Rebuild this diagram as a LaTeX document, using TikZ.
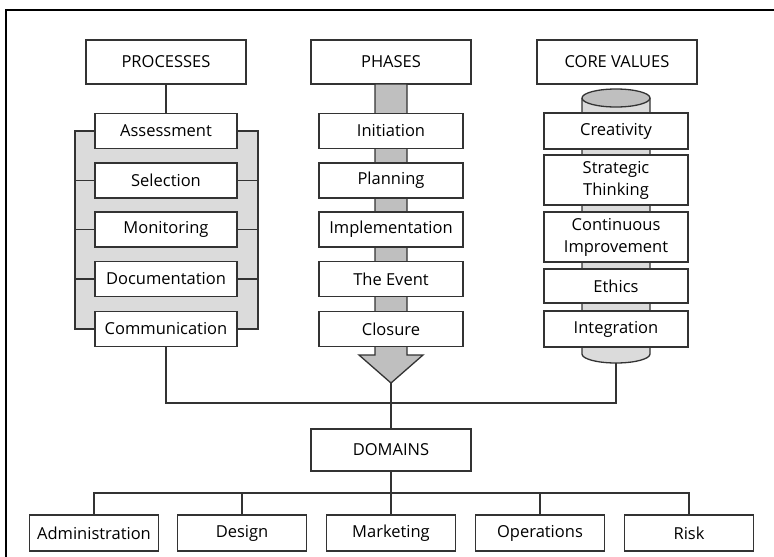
\documentclass[tikz,border=0pt]{standalone}
\usepackage{fontspec}
\setmainfont{Open Sans}
\begin{document}
\begin{tikzpicture}[x=1pt,y=-1pt,
  ink/.style={draw=black!80, line width=1.3pt},
  box/.style={ink, fill=white, inner sep=0pt, align=center,
    font=\fontsize{16.5}{22}\selectfont, text=black},
  head/.style={box, minimum width=160pt, minimum height=44pt},
  proc/.style={box, minimum width=142pt, minimum height=35pt},
  phase/.style={box, minimum width=144pt, minimum height=35pt},
  core/.style={box, minimum width=144pt},
  dom/.style={box, minimum width=129pt, minimum height=36pt},
  wire/.style={draw=black!80, line width=1.2pt},
  shade/.style={fill=black!25},
  light/.style={fill=black!14}]
\useasboundingbox (0,0) rectangle (774,557);

% outer frame (top and left edges)
\draw[line width=1.5pt] (6,557) -- (6,10) -- (774,10);

% ---------- column 1: processes ----------
\node[head] (processes) at (166,62) {PROCESSES};
\fill[light] (75,131) rectangle (258,329);
\draw[wire] (95,131) -- (75,131) -- (75,329) -- (95,329);
\draw[wire] (237,131) -- (258,131) -- (258,329) -- (237,329);
\foreach \y in {180.5,229.5,279} {
  \draw[wire] (75,\y) -- (95,\y);
  \draw[wire] (237,\y) -- (258,\y);
}
\node[proc] (assess) at (166,131)   {Assessment};
\node[proc] (select) at (166,180.5) {Selection};
\node[proc] (monit)  at (166,229.5) {Monitoring};
\node[proc] (docu)   at (166,279)   {Documentation};
\node[proc] (comm)   at (166,329)   {Communication};
\draw[wire] (processes.south) -- (assess.north);

% ---------- column 2: phases with flow arrow ----------
\node[head] (phases) at (391,62) {PHASES};
\draw[ink, shade, line join=miter]
  (375,84) -- (407,84) -- (407,355) -- (423,355) -- (391,383)
  -- (359,355) -- (375,355) -- cycle;
\coordinate (tip) at (391,383);
\node[phase] (init)  at (391,131)   {Initiation};
\node[phase] (plan)  at (391,180.5) {Planning};
\node[phase] (impl)  at (391,229.5) {Implementation};
\node[phase] (event) at (391,279)   {The Event};
\node[phase] (close) at (391,329)   {Closure};

% ---------- column 3: core values on a cylinder ----------
\node[head] (core) at (617,62) {CORE VALUES};
\draw[ink, light] (582,98) -- (582,354) arc[start angle=180, end angle=360,
  x radius=34pt, y radius=9pt] -- (650,98);
\draw[ink, shade] (616,98) ellipse[x radius=34pt, y radius=9pt];
\coordinate (cylbot) at (616,363);
\node[core, minimum height=36pt] (creat) at (616,131) {Creativity};
\node[core, minimum height=50pt] (strat) at (616,180) {Strategic\\Thinking};
\node[core, minimum height=50pt] (cont)  at (616,237) {Continuous\\Improvement};
\node[core, minimum height=34pt] (ethic) at (616,286) {Ethics};
\node[core, minimum height=36pt] (integ) at (616,329) {Integration};

% ---------- merge into domains ----------
\node[head, minimum height=42pt] (domains) at (391,450) {DOMAINS};
\coordinate (merge) at (391,403);
\draw[wire] (comm.south) -- (comm.south |- merge) -- (cylbot |- merge) -- (cylbot);
\draw[wire] (tip) -- (domains.north);

\node[dom] (admin) at (94,533)  {Administration};
\node[dom] (design) at (242,533) {Design};
\node[dom] (mkt)   at (391,533) {Marketing};
\node[dom] (ops)   at (540,533) {Operations};
\node[dom] (risk)  at (689,533) {Risk};
\coordinate (bus) at (391,493);
\draw[wire] (domains.south) -- (bus);
\draw[wire] (admin.north) -- (admin.north |- bus) -- (risk.north |- bus) -- (risk.north);
\foreach \n in {design,mkt,ops} \draw[wire] (\n.north) -- (\n.north |- bus);
\end{tikzpicture}
\end{document}
